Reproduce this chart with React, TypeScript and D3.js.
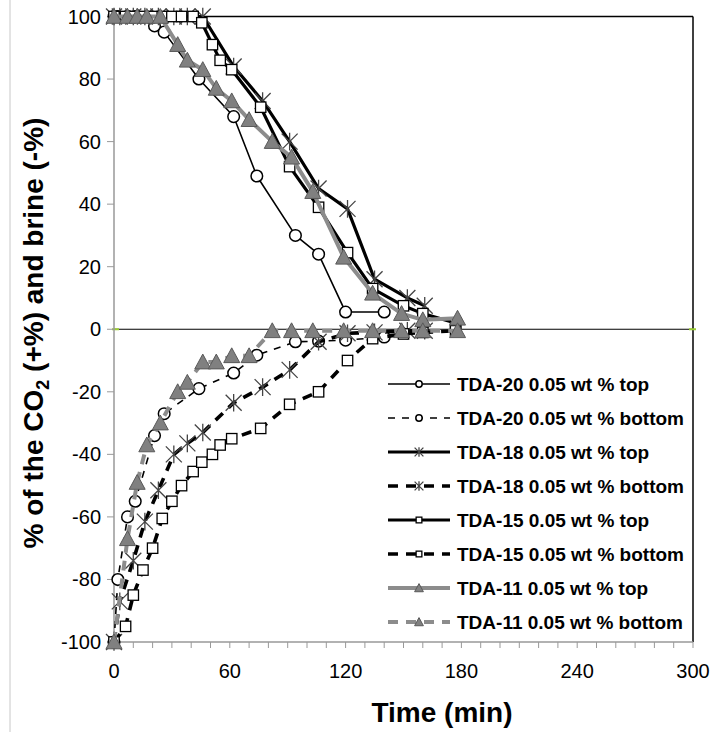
import React from "react";
import * as d3 from "d3";

// ---- data ----
const tda20Time = [0, 2, 7, 11, 21, 26, 44, 62, 74, 94, 106, 120, 140];
const tda20Top = [100, 100, 100, 100, 97, 95, 80, 68, 49, 30, 24, 5.5, 5.5];
const tda20Bottom = [-100, -80, -60, -55, -34, -27, -19, -14, -8.3, -4, -3.8, -3.5, -2.5];

const tda18Time = [0, 3, 10, 16, 23, 31, 38, 46, 62, 77, 91, 106, 121, 135, 152, 161];
const tda18Top = [100, 100, 100, 100, 100, 100, 100, 100, 84, 73, 60, 45, 38.5, 16, 10, 7.5];
const tda18Bottom = [-100, -87, -74, -61.5, -51.5, -40, -36.5, -33, -23.5, -18.5, -13, -4, -1.3, -1, -0.5, -0.5];

const tda15Time = [0, 6, 10, 15, 20, 25, 30, 35, 41, 45.5, 51, 55, 61, 76, 91, 106, 121, 134, 150, 160, 177];
const tda15Top = [100, 100, 100, 100, 100, 100, 100, 100, 100, 98, 91, 86, 83, 71, 52, 39, 24.5, 13, 7.5, 5, 2];
const tda15Bottom = [-100, -95, -85, -77, -70, -60.5, -55, -50, -45.5, -42.5, -40, -37, -35, -31.7, -24, -20, -10, -3, -1.5, -1, -0.5];

const tda11Time = [0, 7, 12, 17, 24, 33, 38, 46, 53, 61, 70, 82, 92, 103, 119, 134, 149, 160, 178];
const tda11Top = [100, 100, 100, 100, 100, 91, 86, 83, 77, 73, 67, 60, 55, 44, 23, 11.5, 5, 3, 3.5];
const tda11Bottom = [-100, -67, -49, -37, -30, -20, -17, -10.5, -10.5, -8.5, -8.5, -0.5, -0.5, -0.5, -0.5, -0.5, -0.5, -0.5, -0.5];

const seriesNames = [
  "TDA-20 0.05 wt % top",
  "TDA-20 0.05 wt % bottom",
  "TDA-18 0.05 wt % top",
  "TDA-18 0.05 wt % bottom",
  "TDA-15 0.05 wt % top",
  "TDA-15 0.05 wt % bottom",
  "TDA-11 0.05 wt % top",
  "TDA-11 0.05 wt % bottom",
];

const xTickLabels = [0, 60, 120, 180, 240, 300];
const yTickLabels = [-100, -80, -60, -40, -20, 0, 20, 40, 60, 80, 100];

type Shape = "circle" | "star" | "square" | "triangle";
interface Series {
  name: string;
  t: number[];
  v: number[];
  color: string;
  width: number;
  dash?: string;
  shape: Shape;
}

const series: Series[] = [
  { name: seriesNames[0], t: tda20Time, v: tda20Top, color: "#000", width: 1.6, shape: "circle" },
  { name: seriesNames[1], t: tda20Time, v: tda20Bottom, color: "#000", width: 1.6, dash: "7,7", shape: "circle" },
  { name: seriesNames[2], t: tda18Time, v: tda18Top, color: "#000", width: 3.2, shape: "star" },
  { name: seriesNames[3], t: tda18Time, v: tda18Bottom, color: "#000", width: 3.6, dash: "10,8", shape: "star" },
  { name: seriesNames[4], t: tda15Time, v: tda15Top, color: "#000", width: 3.2, shape: "square" },
  { name: seriesNames[5], t: tda15Time, v: tda15Bottom, color: "#000", width: 3.6, dash: "10,8", shape: "square" },
  { name: seriesNames[6], t: tda11Time, v: tda11Top, color: "#8c8c8c", width: 4, shape: "triangle" },
  { name: seriesNames[7], t: tda11Time, v: tda11Bottom, color: "#8c8c8c", width: 4, dash: "10,8", shape: "triangle" },
];

const FONT = "'Liberation Sans', Arial, sans-serif";

function Marker({ shape, x, y, s }: { shape: Shape; x: number; y: number; s: number }) {
  if (shape === "circle") {
    return <circle cx={x} cy={y} r={5.8 * s} fill="#fff" stroke="#000" strokeWidth={1.5} />;
  }
  if (shape === "square") {
    const h = 5.2 * s;
    return <rect x={x - h} y={y - h} width={2 * h} height={2 * h} fill="#fff" stroke="#000" strokeWidth={1.3} />;
  }
  if (shape === "triangle") {
    const w = 8 * s;
    const hh = 8 * s;
    return (
      <path
        d={`M${x},${y - hh} L${x + w},${y + hh * 0.85} L${x - w},${y + hh * 0.85} Z`}
        fill="#808080"
        stroke="#595959"
        strokeWidth={1}
      />
    );
  }
  const a = 8 * s;
  return (
    <path
      d={`M${x - a},${y - a} L${x + a},${y + a} M${x - a},${y + a} L${x + a},${y - a} M${x},${y - a * 1.1} L${x},${y + a * 1.1}`}
      stroke="#444"
      strokeWidth={1.3}
      fill="none"
    />
  );
}

export default function App() {
  const W = 713;
  const H = 732;
  const x = d3.scaleLinear().domain([0, 300]).range([114, 693]);
  const y = d3.scaleLinear().domain([-100, 100]).range([642, 16.5]);
  const line = d3
    .line<[number, number]>()
    .x((d) => x(d[0]))
    .y((d) => y(d[1]));

  const minorX = d3.range(0, 301, 10);
  const legendX0 = 388;
  const legendX1 = 450;
  const legendY0 = 384;
  const legendDy = 34;

  return (
    <svg
      width={W}
      height={H}
      style={{ position: "absolute", left: 0, top: 0, background: "#fff" }}
      fontFamily={FONT}
    >
      <rect x={0} y={0} width={W} height={H} fill="#fff" />
      <line x1={10} x2={10} y1={0} y2={H} stroke="#c8c8c8" strokeWidth={1} />

      {/* plot frame */}
      <line x1={x(0)} x2={x(300)} y1={y(100)} y2={y(100)} stroke="#000" strokeWidth={1.5} />
      <line x1={x(300)} x2={x(300)} y1={y(100)} y2={y(-100)} stroke="#000" strokeWidth={1.5} />

      {/* zero line */}
      <line x1={x(0)} x2={x(300)} y1={y(0)} y2={y(0)} stroke="#000" strokeWidth={1.2} />
      <line x1={x(0) - 2} x2={x(0) + 5} y1={y(0)} y2={y(0)} stroke="#9acd32" strokeWidth={2} />
      <line x1={x(300) - 4} x2={x(300) + 3} y1={y(0)} y2={y(0)} stroke="#9acd32" strokeWidth={2} />

      {/* axes */}
      <line x1={x(0)} x2={x(0)} y1={y(100)} y2={y(-100)} stroke="#999" strokeWidth={1.5} />
      <line x1={x(0)} x2={x(300)} y1={y(-100)} y2={y(-100)} stroke="#999" strokeWidth={1.5} />
      {yTickLabels.map((v) => (
        <g key={"yt" + v}>
          <line x1={x(0) - 7} x2={x(0)} y1={y(v)} y2={y(v)} stroke="#999" strokeWidth={1} />
          <text x={101} y={y(v) + 7} textAnchor="end" fontSize={20} fill="#000">
            {v}
          </text>
        </g>
      ))}
      {minorX.map((t) => (
        <line key={"xt" + t} x1={x(t)} x2={x(t)} y1={y(-100)} y2={y(-100) + 6} stroke="#999" strokeWidth={1} />
      ))}
      {xTickLabels.map((t) => (
        <text key={"xl" + t} x={x(t)} y={678} textAnchor="middle" fontSize={20} fill="#000">
          {t}
        </text>
      ))}

      {/* axis titles */}
      <text x={442} y={722} textAnchor="middle" fontSize={28} fontWeight="bold" fill="#000">
        Time (min)
      </text>
      <text
        transform={`translate(43,333) rotate(-90)`}
        textAnchor="middle"
        fontSize={28}
        fontWeight="bold"
        fill="#000"
      >
        % of the CO
        <tspan fontSize={18} dy={6}>
          2
        </tspan>
        <tspan dy={-6}> (+%) and brine (-%)</tspan>
      </text>

      {/* series */}
      {series.map((s) => {
        const pts: [number, number][] = s.t.map((t, i) => [t, s.v[i]]);
        return (
          <g key={s.name}>
            <path
              d={line(pts) || ""}
              fill="none"
              stroke={s.color}
              strokeWidth={s.width}
              strokeDasharray={s.dash}
              strokeLinejoin="round"
            />
            {pts.map((p, i) => (
              <Marker key={i} shape={s.shape} x={x(p[0])} y={y(p[1])} s={1} />
            ))}
          </g>
        );
      })}

      {/* legend */}
      {series.map((s, i) => {
        const ly = legendY0 + i * legendDy;
        return (
          <g key={"lg" + i}>
            <line
              x1={legendX0}
              x2={legendX1}
              y1={ly}
              y2={ly}
              stroke={s.color}
              strokeWidth={s.width}
              strokeDasharray={s.dash}
            />
            <Marker shape={s.shape} x={(legendX0 + legendX1) / 2} y={ly} s={0.55} />
            <text x={457} y={ly + 7} fontSize={19} fontWeight="bold" fill="#000">
              {s.name}
            </text>
          </g>
        );
      })}
    </svg>
  );
}
